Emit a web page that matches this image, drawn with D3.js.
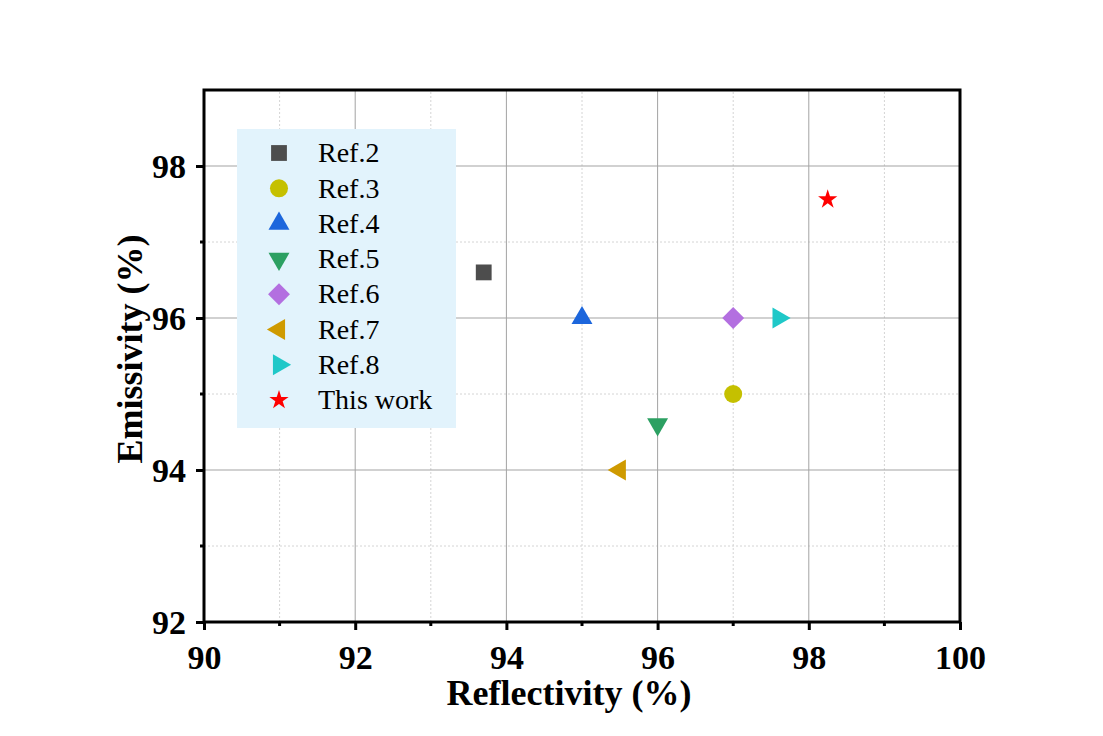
<!DOCTYPE html>
<html>
<head>
<meta charset="utf-8">
<script src="https://cdn.jsdelivr.net/npm/d3@7"></script>
<style>
  body { margin: 0; background: #fff; }
  svg { display: block; }
  .tick text { font-family: "Liberation Serif", "Times New Roman", serif; font-weight: bold; font-size: 34px; fill: #000; }
</style>
</head>
<body>
<div id="chart"></div>
<script>
// series, one point each
const names = ['Ref.2', 'Ref.3', 'Ref.4', 'Ref.5', 'Ref.6', 'Ref.7', 'Ref.8', 'This work'];
const reflectivity = [93.7, 97.0, 95.0, 96.0, 97.0, 95.5, 97.6, 98.25];
const emissivity = [96.6, 95.0, 96.0, 94.6, 96.0, 94.0, 96.0, 97.56];
const xTicks = [90, 92, 94, 96, 98, 100];
const yTicks = [92, 94, 96, 98];

const colors = ['#4d4d4d', '#c5c000', '#1c66dc', '#2ca062', '#b36fe0', '#cf9a00', '#1fc8c8', '#ff0000'];
const shapes = [
  { type: d3.symbolSquare, size: 250, rot: 0 },
  { type: d3.symbolCircle, size: 255, rot: 0 },
  { type: d3.symbolTriangle, size: 190, rot: 0 },
  { type: d3.symbolTriangle, size: 190, rot: 180 },
  { type: d3.symbolSquare, size: 240, rot: 45 },
  { type: d3.symbolTriangle, size: 190, rot: -90 },
  { type: d3.symbolTriangle, size: 190, rot: 90 },
  { type: d3.symbolStar, size: 115, rot: 0 },
];

const width = 1103,
  height = 736,
  margin = { top: 90, right: 143, bottom: 114, left: 204 };
const serif = '"Liberation Serif", "Times New Roman", serif';

const x = d3.scaleLinear()
    .domain([90, 100])
    .range([margin.left, width - margin.right]);

const y = d3.scaleLinear()
    .domain([92, 99])
    .range([height - margin.bottom, margin.top]);

const svg = d3.select('#chart').append('svg')
    .attr('width', width)
    .attr('height', height);

svg.append('rect')
    .attr('width', width)
    .attr('height', height)
    .attr('fill', '#fff');

// minor grid (dotted)
const xMinor = d3.range(91, 100, 2);
const yMinor = [93, 95, 97];
svg.append('g').selectAll('line')
    .data(xMinor)
  .join('line')
    .attr('x1', (d) => x(d)).attr('x2', (d) => x(d))
    .attr('y1', y(92)).attr('y2', y(99))
    .attr('stroke', '#d4d4d4')
    .attr('stroke-dasharray', '2,2');
svg.append('g').selectAll('line')
    .data(yMinor)
  .join('line')
    .attr('x1', x(90)).attr('x2', x(100))
    .attr('y1', (d) => y(d)).attr('y2', (d) => y(d))
    .attr('stroke', '#d4d4d4')
    .attr('stroke-dasharray', '2,2');

// major grid
svg.append('g').selectAll('line')
    .data(xTicks.slice(1, -1))
  .join('line')
    .attr('x1', (d) => x(d)).attr('x2', (d) => x(d))
    .attr('y1', y(92)).attr('y2', y(99))
    .attr('stroke', '#a3a3a3');
svg.append('g').selectAll('line')
    .data(yTicks.slice(1))
  .join('line')
    .attr('x1', x(90)).attr('x2', x(100))
    .attr('y1', (d) => y(d)).attr('y2', (d) => y(d))
    .attr('stroke', '#a3a3a3');

// legend background
const legendTop = 129;
svg.append('rect')
    .attr('x', 237)
    .attr('y', legendTop)
    .attr('width', 219)
    .attr('height', 299)
    .attr('fill', '#e2f3fc');

// axes
const xAxis = d3.axisBottom(x).tickValues(xTicks).tickFormat(d3.format('d')).tickSize(8).tickPadding(8);
const yAxis = d3.axisLeft(y).tickValues(yTicks).tickFormat(d3.format('d')).tickSize(8).tickPadding(10);

const gx = svg.append('g')
    .attr('transform', `translate(0,${y(92)})`)
    .call(xAxis);
const gy = svg.append('g')
    .attr('transform', `translate(${x(90)},0)`)
    .call(yAxis);
[gx, gy].forEach((g) => {
  g.select('.domain').remove();
  g.selectAll('.tick line').attr('stroke', '#000').attr('stroke-width', 3);
});
gx.selectAll('.tick text').attr('dy', '0.9em');
gy.selectAll('.tick text').attr('dy', '0.34em');

// minor ticks
svg.append('g').selectAll('line')
    .data(xMinor)
  .join('line')
    .attr('x1', (d) => x(d)).attr('x2', (d) => x(d))
    .attr('y1', y(92)).attr('y2', y(92) + 4)
    .attr('stroke', '#000').attr('stroke-width', 3);
svg.append('g').selectAll('line')
    .data(yMinor)
  .join('line')
    .attr('x1', x(90)).attr('x2', x(90) - 4)
    .attr('y1', (d) => y(d)).attr('y2', (d) => y(d))
    .attr('stroke', '#000').attr('stroke-width', 3);

// frame
svg.append('rect')
    .attr('x', x(90))
    .attr('y', y(99))
    .attr('width', x(100) - x(90))
    .attr('height', y(92) - y(99))
    .attr('fill', 'none')
    .attr('stroke', '#000')
    .attr('stroke-width', 3);

// points
const sym = (i) => d3.symbol().type(shapes[i].type).size(shapes[i].size)();
svg.append('g').selectAll('path')
    .data(names)
  .join('path')
    .attr('d', (d, i) => sym(i))
    .attr('transform', (d, i) => `translate(${x(reflectivity[i])},${y(emissivity[i])}) rotate(${shapes[i].rot})`)
    .attr('fill', (d, i) => colors[i]);

// legend entries
const item = svg.append('g').selectAll('g')
    .data(names)
  .join('g')
    .attr('transform', (d, i) => `translate(279,${153 + i * 35.3})`);
item.append('path')
    .attr('d', (d, i) => sym(i))
    .attr('transform', (d, i) => `rotate(${shapes[i].rot})`)
    .attr('fill', (d, i) => colors[i]);
item.append('text')
    .attr('x', 39)
    .attr('dy', '0.33em')
    .attr('font-family', serif)
    .attr('font-size', 28)
    .text((d) => d);

// axis titles
svg.append('text')
    .attr('x', 569)
    .attr('y', 705)
    .attr('text-anchor', 'middle')
    .attr('font-family', serif)
    .attr('font-weight', 'bold')
    .attr('font-size', 36)
    .text('Reflectivity (%)');

svg.append('text')
    .attr('transform', `translate(142,${(y(92) + y(99)) / 2 - 7}) rotate(-90)`)
    .attr('text-anchor', 'middle')
    .attr('font-family', serif)
    .attr('font-weight', 'bold')
    .attr('font-size', 36)
    .text('Emissivity (%)');
</script>
</body>
</html>
